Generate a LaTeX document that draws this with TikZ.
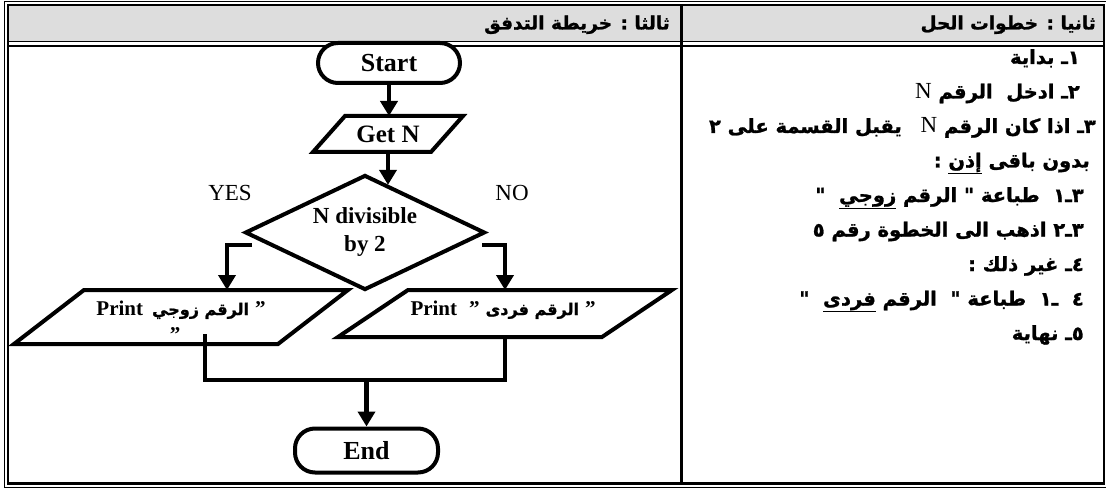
\documentclass[tikz,border=0pt]{standalone}
\usepackage{fontspec}
\setmainfont{Liberation Serif}
\newfontfamily\arb[Script=Arabic,BoldFeatures={FakeBold=1.2}]{DejaVu Sans}
\TeXXeTstate=1
\usetikzlibrary{arrows.meta,shapes.geometric}
\definecolor{hdrgray}{RGB}{221,221,221}
% right-to-left run, underlined word, Latin letter inside Arabic text
\newcommand\artx[1]{\beginR #1\endR}
\newcommand\ulw[1]{\underline{#1}}
\newcommand\latN{{\rmfamily\mdseries\fontsize{23}{20}\selectfont N}}
\newcommand\prt{{\rmfamily\bfseries\fontsize{21}{24}\selectfont Print}}
\newcommand\qt{{\rmfamily\bfseries\fontsize{21}{24}\selectfont "}}

\begin{document}
\begin{tikzpicture}[x=1pt,y=-1pt,
  shp/.style={line width=4pt, line join=miter},
  term/.style={draw, fill=white, line width=4pt, rounded corners=20pt, minimum width=142pt,
    minimum height=40pt, inner sep=0pt, font=\bfseries\fontsize{26}{30}\selectfont},
  iobox/.style={inner sep=0pt, outer sep=0pt},
  dec/.style={diamond, aspect=2, draw, line width=4pt, minimum width=240pt, minimum height=115pt,
    inner sep=0pt, align=center, font=\bfseries\fontsize{23}{28}\selectfont},
  arr/.style={line width=4.5pt, -{Triangle[length=15pt,width=17pt]}},
  flow/.style={line width=4.5pt},
  lbl/.style={inner sep=0pt, font=\fontsize{23}{28}\selectfont},
  ptxt/.style={anchor=base, inner sep=0pt},
  hdr/.style={anchor=base east, inner sep=0pt, font=\arb\bfseries\fontsize{18.5}{20}\selectfont},
  rtxt/.style={anchor=base east, inner sep=0pt, font=\arb\bfseries\fontsize{19.5}{22}\selectfont}
]
\useasboundingbox (0,0) rectangle (1106,492);

% ---- table frame ----
\fill[hdrgray] (8,5) rectangle (1104,41);
\draw[line width=1pt] (4,1.5) rectangle (1108,487.5);
\draw[line width=2.5pt] (8,5) rectangle (1104,483.5);
\draw[line width=1.8pt] (8,41.5) -- (1104,41.5);
\draw[line width=1.2pt] (8,46) -- (1104,46);
\draw[line width=3pt] (681,5) -- (681,483.5);

% ---- column headings ----
\node[hdr] (hsteps) at (1096,29.5) {\artx{ثانيا : خطوات الحل}};
\node[hdr] (hflow) at (670,29.5) {\artx{ثالثا : خريطة التدفق}};

% ---- solution steps ----
\node[rtxt] (s1) at (1080,64) {\artx{١ـ بداية}};
\node[rtxt] (s2) at (1080,98.5) {\artx{٢ـ ادخل \ الرقم \latN}};
\node[rtxt] (s3) at (1096,133) {\artx{٣ـ اذا كان الرقم \latN\hspace{12pt} يقبل القسمة على ٢}};
\node[rtxt] (s3b) at (1090,167.5) {\artx{بدون باقى \ulw{إذن} :}};
\node[rtxt] (s31) at (1084,202) {\artx{٣ـ١ \ طباعة " الرقم \ulw{زوجي} \ "}};
\node[rtxt] (s32) at (1084,236.5) {\artx{٣ـ٢ اذهب الى الخطوة رقم ٥}};
\node[rtxt] (s4) at (1084,271) {\artx{٤ـ غير ذلك :}};
\node[rtxt] (s41) at (1084,305.5) {\artx{٤ \ ـ١ \ طباعة " \ الرقم \ulw{فردى} \ "}};
\node[rtxt] (s5) at (1084,340) {\artx{٥ـ نهاية}};

% ---- flowchart ----
\node[term] (start) at (389,63) {Start};

\node[iobox, minimum width=118pt, minimum height=36pt, font=\bfseries\fontsize{25}{30}\selectfont]
  (gn) at (388,134) {Get N};
\draw[shp] ([xshift=-16pt]gn.south west) -- ([xshift=-16pt]gn.south east)
  -- ([xshift=16pt]gn.north east) -- ([xshift=16pt]gn.north west) -- cycle;

\node[dec] (dia) at (365,232.5) {N divisible\\by 2};

\node[lbl] (yes) at (230,193) {YES};
\node[lbl] (no) at (512,193) {NO};

% output boxes
\node[iobox, minimum width=264pt, minimum height=54pt] (lp) at (181,317) {};
\draw[shp] ([xshift=-35pt]lp.south west) -- ([xshift=-35pt]lp.south east)
  -- ([xshift=35pt]lp.north east) -- ([xshift=35pt]lp.north west) -- cycle;
\node[ptxt] (lpt1) at (181,315) {\prt\hspace{9pt}{\arb\bfseries\fontsize{16}{18}\selectfont\artx{الرقم زوجي}}\hspace{6pt}\qt};
\node[ptxt] (lpt2) at (175,341) {\qt};

\node[iobox, minimum width=264pt, minimum height=47pt] (rp) at (505,313.5) {};
\draw[shp] ([xshift=-35pt]rp.south west) -- ([xshift=-35pt]rp.south east)
  -- ([xshift=35pt]rp.north east) -- ([xshift=35pt]rp.north west) -- cycle;
\node[ptxt] (rpt) at (503,315) {\prt\hspace{12pt}\qt\hspace{6pt}{\arb\bfseries\fontsize{16}{18}\selectfont\artx{الرقم فردى}}\hspace{6pt}\qt};

\node[term, minimum width=143pt, minimum height=44pt] (endn) at (366.5,450.5) {End};

% ---- connectors ----
\draw[arr] (start.south) -- (start.south |- gn.north);
\draw[arr] (gn.south) -- (gn.south |- dia.63.5);

\coordinate (ystub) at (252,245);
\coordinate (lpin) at ([xshift=46pt]lp.north);
\draw[arr] (ystub) -| (lpin);
\coordinate (nstub) at (482,245);
\draw[arr] (nstub) -| (rp.north);

\coordinate (lout) at ([xshift=24pt,yshift=10pt]lp.south);
\coordinate (jn) at (366.5,380);
\draw[flow] (lout) -- (lout |- jn) -- (rp.south |- jn) -- (rp.south);
\draw[arr] (jn) -- (endn.north);
\end{tikzpicture}
\end{document}
